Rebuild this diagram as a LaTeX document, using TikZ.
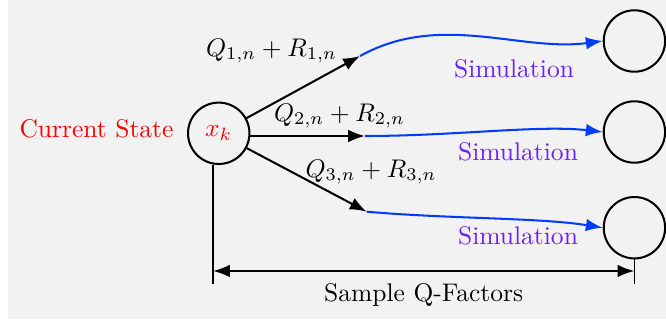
\documentclass[tikz,border=0pt]{standalone}
\usetikzlibrary{arrows.meta,positioning,calc}
\definecolor{bggray}{RGB}{242,242,242}
\definecolor{simblue}{RGB}{0,60,255}
\definecolor{simviolet}{RGB}{110,30,255}

\begin{document}
\begin{tikzpicture}[
    state/.style={circle, draw, thick, minimum size=0.846cm, inner sep=0pt},
    act/.style={-{Latex}, thick},
    sim/.style={-{Latex}, thick, draw=simblue},
    simlabel/.style={text=simviolet}
  ]
    \useasboundingbox (0,0) rectangle (9.177,4.451);
    \fill[bggray] (0.110,0.055) rectangle (9.177,4.451);

    % current state and the sampled next states
    \node[state] (xk) at (3.014,2.614) {\color{red}$x_k$};
    \node[text=red] (cur) at (1.330,2.677) {Current State};
    \node[state] (s1) at (8.742,3.886) {};
    \node[state] (s2) at (8.742,2.632) {};
    \node[state] (s3) at (8.742,1.313) {};

    % ends of the first transitions
    \coordinate (t1) at (4.961,3.679);
    \coordinate (t2) at (5.030,2.577);
    \coordinate (t3) at (5.053,1.534);

    \draw[act] (xk) -- (t1);
    \draw[act] (xk.east |- t2) -- (t2);
    \draw[act] (xk) -- (t3);
    \node (q1) at (3.741,3.748) {$Q_{1,n}+R_{1,n}$};
    \node (q2) at (4.678,2.852) {$Q_{2,n}+R_{2,n}$};
    \node (q3) at (5.112,2.081) {$Q_{3,n}+R_{3,n}$};

    % simulated trajectories
    \draw[sim] (t1) .. controls +(1.10,0.61) and +(-1.14,-0.15) .. (s1.west);
    \draw[sim] (t2) .. controls +(1.24,0) and +(-0.87,0.10) .. (s2.west);
    \draw[sim] (t3) .. controls +(1.14,-0.10) and +(-0.87,0.14) .. (s3.west);
    \node[simlabel] (m1) at (7.083,3.500) {Simulation};
    \node[simlabel] (m2) at (7.138,2.356) {Simulation};
    \node[simlabel] (m3) at (7.138,1.199) {Simulation};

    % span of the samples
    \coordinate (dimL) at (2.935,0.717);
    \coordinate (dimR) at (s3 |- dimL);
    \draw (dimL |- xk.south) -- ([yshift=-0.18cm]dimL);
    \draw (s3.south) -- ([yshift=-0.18cm]dimR);
    \draw[{Latex}-{Latex}, thick] (dimL) -- node[below=1pt] (span) {Sample Q-Factors} (dimR);
  \end{tikzpicture}
\end{document}
